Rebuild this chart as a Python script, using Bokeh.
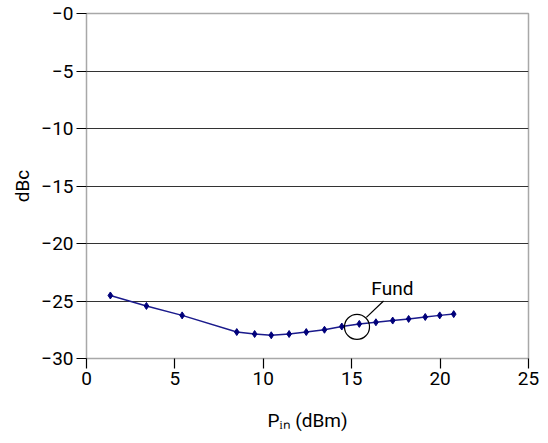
from bokeh.plotting import figure
from bokeh.models import FixedTicker, Label, Range1d
from bokeh.embed import file_html
from bokeh.resources import INLINE

# Data
pin_dbm = [1.35, 3.39, 5.41, 8.5, 9.51, 10.45, 11.46, 12.43, 13.46, 14.44,
           15.43, 16.37, 17.32, 18.22, 19.16, 19.98, 20.77]
fund_dbc = [-24.52, -25.43, -26.25, -27.7, -27.87, -27.98, -27.87, -27.7, -27.5,
            -27.22, -26.99, -26.85, -26.7, -26.56, -26.39, -26.25, -26.14]
x_ticks = [0, 5, 10, 15, 20, 25]
y_ticks = [-30, -25, -20, -15, -10, -5, 0]
y_tick_labels = {-30: "\u221230", -25: "\u221225", -20: "\u221220", -15: "\u221215",
                 -10: "\u221210", -5: "\u22125", 0: "\u22120"}
series_name = "Fund"
x_title = "P\u1d62\u2099 (dBm)"
y_title = "dBc"

FONT = "Roboto"

p = figure(width=540, height=435, output_backend="svg", toolbar_location=None,
           x_range=Range1d(0, 25), y_range=Range1d(-30, 0),
           min_border_left=86, min_border_right=12, min_border_top=13,
           min_border_bottom=77)
p.background_fill_color = "white"
p.border_fill_color = "white"
p.outline_line_color = "#a8a8a8"
p.outline_line_width = 1.5

p.xgrid.visible = False
p.ygrid.ticker = FixedTicker(ticks=[-25, -20, -15, -10, -5, 0])
p.ygrid.grid_line_color = "#333333"
p.ygrid.grid_line_width = 1

for ax in (p.xaxis[0], p.yaxis[0]):
    ax.axis_line_color = None
    ax.major_tick_line_color = "black"
    ax.major_tick_line_width = 1.2
    ax.major_tick_out = 10
    ax.major_tick_in = 0
    ax.minor_tick_line_color = None
    ax.major_label_text_font = FONT
    ax.major_label_text_font_size = "19px"
    ax.major_label_text_color = "black"
    ax.axis_label_text_font = FONT
    ax.axis_label_text_font_size = "19px"
    ax.axis_label_text_font_style = "normal"
    ax.axis_label_text_color = "black"

p.xaxis.ticker = FixedTicker(ticks=x_ticks)
p.xaxis.major_label_standoff = 3
p.xaxis.axis_label = x_title
p.xaxis.axis_label_standoff = 21
p.yaxis.ticker = FixedTicker(ticks=y_ticks)
p.yaxis.major_label_overrides = y_tick_labels
p.yaxis.major_label_standoff = 3
p.yaxis.axis_label = y_title
p.yaxis.axis_label_standoff = 4

p.line(pin_dbm, fund_dbc, line_color="#1a1a8c", line_width=1.5)
p.scatter(pin_dbm, fund_dbc, marker="diamond", size=7, color="#00007a")

# annotation: circle + leader + label
p.scatter([15.3], [-27.25], marker="circle", size=25, fill_color=None,
          line_color="black", line_width=1.2)
p.segment([15.83], [-26.42], [16.8], [-25.0], line_color="black", line_width=1.2)
p.add_layout(Label(x=17.3, y=-23.9, text=series_name, text_align="center",
                   text_baseline="middle", text_font=FONT, text_font_size="19px",
                   text_color="black"))

open("out.html", "w").write(file_html(p, INLINE))
